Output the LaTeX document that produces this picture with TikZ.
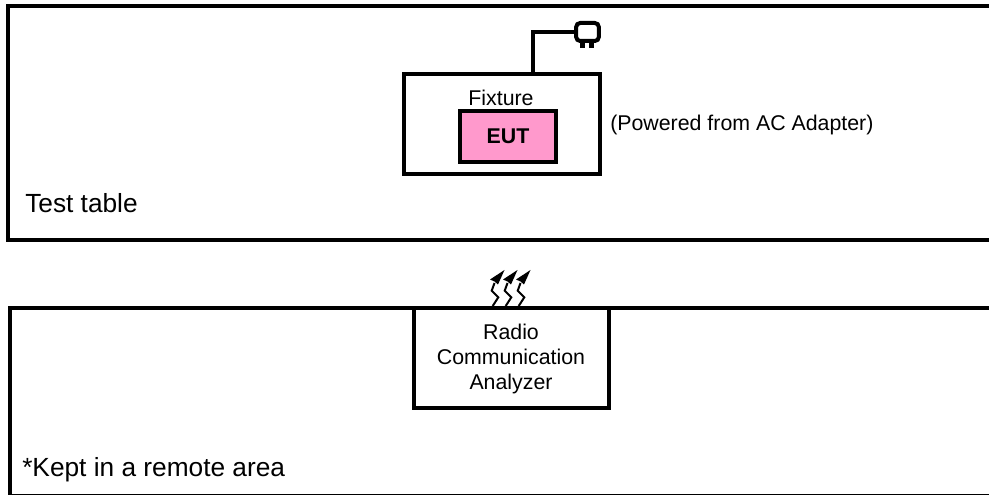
\documentclass[tikz,border=0pt]{standalone}
\usepackage{fontspec}
\setmainfont{Liberation Sans}
\usetikzlibrary{positioning}
\definecolor{eutpink}{RGB}{255,153,204}
\begin{document}
\begin{tikzpicture}[x=0.75pt,y=-0.75pt,node distance=14mm,
		thick line/.style={line width=3pt,draw=black},
		box/.style={rectangle,thick line,inner sep=0pt},
		label text/.style={inner sep=0pt,font=\fontsize{16pt}{18.75pt}\selectfont,align=center},
		big text/.style={inner sep=0pt,anchor=west,font=\fontsize{19.7pt}{23pt}\selectfont}]
		\useasboundingbox (0,0) rectangle (989,495);
		
		% tables, open on the right
		\draw[thick line] (989,6) -- (7.5,6) -- (7.5,240) -- (989,240);
		\draw[thick line] (989,308) -- (9.6,308) -- (9.6,495.6) -- (989,495.6);
		\node[big text] (testTable) at (25,203) {Test table};
		\node[big text] (remote) at (22,469.5) {*Kept in a remote area};
		
		\node[box,minimum width=147pt,minimum height=75pt] (fixture) at (502,124) {};
		\node[box,fill=eutpink,minimum width=72pt,minimum height=38pt,label text,font=\fontsize{16pt}{18.75pt}\selectfont\bfseries] (eut) at (508,136.5) {EUT};
		\node[label text] (fixLabel) at (501,98) {Fixture};
		\node[label text,anchor=west] (power) at (610,125) {(Powered from AC Adapter)};
		
		% plug
		\node[box,rounded corners=3pt,minimum width=17pt,minimum height=13.5pt] (plug) at (587.5,32) {};
		\coordinate (wireEnd) at (fixture.north -| 533,0);
		\draw[thick line] (wireEnd) |- (plug.west);
		\foreach \px in {582,591}
			\draw[line width=3.75pt] (\px,42) -- (\px,48);
		
		% radio analyzer
		\node[box,fill=white,minimum width=146.5pt,minimum height=75pt] (analyzer) at (511.4,358) {};
		\node[label text] (anaLabel) at (511,359) {Radio\\Communication\\Analyzer};
		
		% waves
		\foreach \dx in {0,13,26} {
			\draw[line width=1.5pt] (492.7+\dx,306) -- (498.3+\dx,297.3) -- (491.7+\dx,290.7) -- (494.5+\dx,283);
			\fill (504.5+\dx,270) -- (490+\dx,279.5) -- (494.5+\dx,281.5) -- (498+\dx,284.5) -- cycle;
		}
		\end{tikzpicture}
\end{document}
